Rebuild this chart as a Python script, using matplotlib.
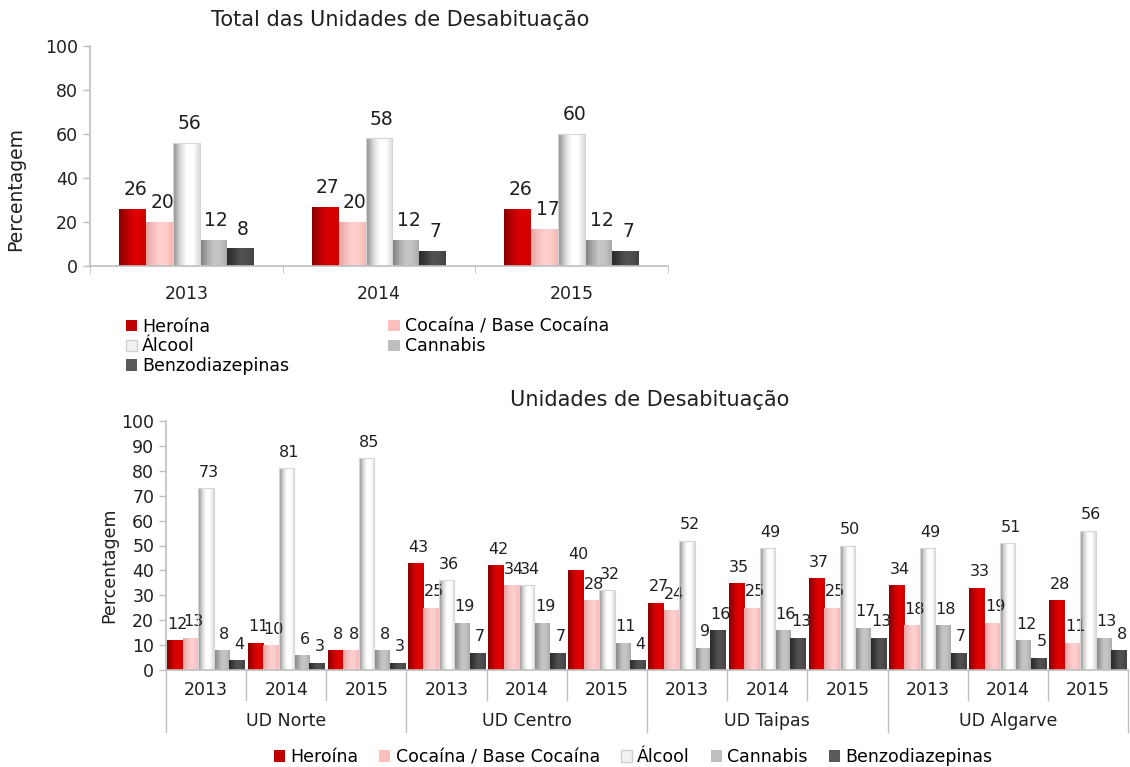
"""
Recreation of the two bar charts: Total das Unidades de Desabituação
and per-unit breakdown (UD Norte, Centro, Taipas, Algarve).
"""

import matplotlib
matplotlib.use("Agg")
import matplotlib.pyplot as plt
import numpy as np
from matplotlib.colors import LinearSegmentedColormap
from matplotlib.patches import Patch
from matplotlib.transforms import blended_transform_factory

plt.rcParams["font.family"] = ["DejaVu Sans"]

# ---------------------------------------------------------------- data
SUBSTANCES = ["Heroína", "Cocaína / Base Cocaína", "Álcool", "Cannabis", "Benzodiazepinas"]

TOTAL_YEARS = ["2013", "2014", "2015"]
total_heroina  = [26, 27, 26]
total_cocaina  = [20, 20, 17]
total_alcool   = [56, 58, 60]
total_cannabis = [12, 12, 12]
total_benzo    = [8, 7, 7]

UNITS = ["UD Norte", "UD Centro", "UD Taipas", "UD Algarve"]
UNIT_YEARS = ["2013", "2014", "2015"]
ud_heroina  = [12, 11, 8, 43, 42, 40, 27, 35, 37, 34, 33, 28]
ud_cocaina  = [13, 10, 8, 25, 34, 28, 24, 25, 25, 18, 19, 11]
ud_alcool   = [73, 81, 85, 36, 34, 32, 52, 49, 50, 49, 51, 56]
ud_cannabis = [8, 6, 8, 19, 19, 11, 9, 16, 17, 18, 12, 13]
ud_benzo    = [4, 3, 3, 7, 7, 4, 16, 13, 13, 7, 5, 8]

# ---------------------------------------------------------------- style
GRADIENTS = [
    ["#8A0000", "#B00000", "#D80000", "#E00000", "#C80000"],
    ["#E6A3A3", "#F6BDBD", "#FFD0D0", "#FFCCCC", "#F2B6B6"],
    ["#8C8C8C", "#D4D4D4", "#FFFFFF", "#FFFFFF", "#DADADA"],
    ["#7C7C7C", "#A6A6A6", "#C6C6C6", "#C2C2C2", "#ABABAB"],
    ["#2A2A2A", "#3C3C3C", "#525252", "#4E4E4E", "#424242"],
]
LEGEND_COLORS = ["#C00000", "#FFBFBF", "#F2F2F2", "#BFBFBF", "#595959"]
AXIS_GREY = "#BFBFBF"
TEXT = "#202020"


def gradient_bars(ax, xs, heights, width, idx):
    cmap = LinearSegmentedColormap.from_list(f"g{idx}", GRADIENTS[idx])
    grad = np.linspace(0, 1, 64).reshape(1, -1)
    edge = "#D6D6D6" if idx == 2 else "none"
    bars = ax.bar(xs, heights, width, color="none", edgecolor=edge, lw=0.8, zorder=3)
    for b in bars:
        x0, y0, w, h = b.get_x(), b.get_y(), b.get_width(), b.get_height()
        im = ax.imshow(grad, cmap=cmap, extent=[x0, x0 + w, y0, y0 + h],
                       aspect="auto", interpolation="bicubic", zorder=2)
        im.set_clip_path(b)
    return bars


def label_bars(ax, xs, heights, fontsize, dy):
    for x, h in zip(xs, heights):
        ax.annotate(f"{h:g}", (x, h), xytext=(2, dy), textcoords="offset points",
                    ha="center", va="bottom", fontsize=fontsize, color=TEXT)


def style_axes(ax):
    for s in ("top", "right"):
        ax.spines[s].set_visible(False)
    for s in ("left", "bottom"):
        ax.spines[s].set_color(AXIS_GREY)
        ax.spines[s].set_linewidth(1.2)
    ax.tick_params(axis="y", colors=AXIS_GREY, labelcolor=TEXT, length=5, width=1.0)


fig = plt.figure(figsize=(11.3, 7.67), dpi=100)

# ---------------------------------------------------------------- top chart
ax1 = fig.add_axes([90 / 1130, 1 - 266 / 767, 578 / 1130, 220 / 767])
style_axes(ax1)
total_series = [total_heroina, total_cocaina, total_alcool, total_cannabis, total_benzo]
bw = 0.14
xc = np.arange(len(TOTAL_YEARS))
for i, vals in enumerate(total_series):
    xs = xc + (i - 2) * bw
    gradient_bars(ax1, xs, vals, bw, i)
    label_bars(ax1, xs, vals, 13.5, 7)
ax1.set_xlim(-0.5, len(TOTAL_YEARS) - 0.5)
ax1.set_ylim(0, 100)
ax1.set_yticks(range(0, 101, 20))
ax1.tick_params(axis="y", labelsize=12.5)
ax1.set_xticks(xc)
ax1.set_xticklabels(TOTAL_YEARS, fontsize=12.5, color=TEXT)
ax1.tick_params(axis="x", length=0, pad=14)
ax1.set_xticks(np.arange(-0.5, len(TOTAL_YEARS)), minor=True)
ax1.tick_params(axis="x", which="minor", length=5, color=AXIS_GREY)
ax1.set_ylabel("Percentagem", fontsize=13.5, color=TEXT)
ax1.yaxis.set_label_coords(-0.112, 0.35)
fig.text(400 / 1130, 1 - 20 / 767, "Total das Unidades de Desabituação",
         ha="center", va="center", fontsize=15, color=TEXT)

handles = [Patch(facecolor=LEGEND_COLORS[i], edgecolor="#D0D0D0" if i == 2 else "none")
           for i in range(5)]
order = [0, 2, 4, 1, 3]
fig.legend([handles[i] for i in order], [SUBSTANCES[i] for i in order],
           loc="upper left", bbox_to_anchor=(117 / 1130, 1 - 309 / 767), ncol=2,
           frameon=False, fontsize=12.5, handlelength=0.65, handleheight=0.65,
           handletextpad=0.3, columnspacing=5.7, labelspacing=0.1, borderpad=0)

# ---------------------------------------------------------------- bottom chart
ax2 = fig.add_axes([166 / 1130, 1 - 670 / 767, 962 / 1130, 249 / 767])
style_axes(ax2)
ud_series = [ud_heroina, ud_cocaina, ud_alcool, ud_cannabis, ud_benzo]
n = len(ud_heroina)
bw2 = 0.193
xc2 = np.arange(n)
for i, vals in enumerate(ud_series):
    xs = xc2 + (i - 2) * bw2
    gradient_bars(ax2, xs, vals, bw2, i)
    label_bars(ax2, xs, vals, 11.5, 6)
ax2.set_xlim(-0.5, n - 0.5)
ax2.set_ylim(0, 100)
ax2.set_yticks(range(0, 101, 10))
ax2.tick_params(axis="y", labelsize=12.5)
ax2.set_xticks([])
ax2.set_ylabel("Percentagem", fontsize=12.5, color=TEXT)
ax2.yaxis.set_label_coords(-0.05, 0.42)

tr = blended_transform_factory(ax2.transData, ax2.transAxes)
ax_h = 249
years_all = UNIT_YEARS * len(UNITS)
for k, yr in enumerate(years_all):
    ax2.text(k, -20 / ax_h, yr, transform=tr, ha="center", va="center",
             fontsize=12.5, color=TEXT)
for k in range(n + 1):
    bottom = -62 / ax_h if k % 3 == 0 else -30 / ax_h
    ax2.plot([k - 0.5, k - 0.5], [0, bottom], transform=tr, color=AXIS_GREY,
             lw=1.0, clip_on=False)
for g, unit in enumerate(UNITS):
    ax2.text(g * 3 + 1, -51 / ax_h, unit, transform=tr, ha="center", va="center",
             fontsize=12.5, color=TEXT)
fig.text(650 / 1130, 1 - 400 / 767, "Unidades de Desabituação",
         ha="center", va="center", fontsize=15, color=TEXT)

fig.legend(handles, SUBSTANCES, loc="center", bbox_to_anchor=(633 / 1130, 1 - 757 / 767),
           ncol=5, frameon=False, fontsize=12.5, handlelength=0.65, handleheight=0.65,
           handletextpad=0.3, columnspacing=1.2, borderpad=0)

fig.savefig("out.png", dpi=100)
